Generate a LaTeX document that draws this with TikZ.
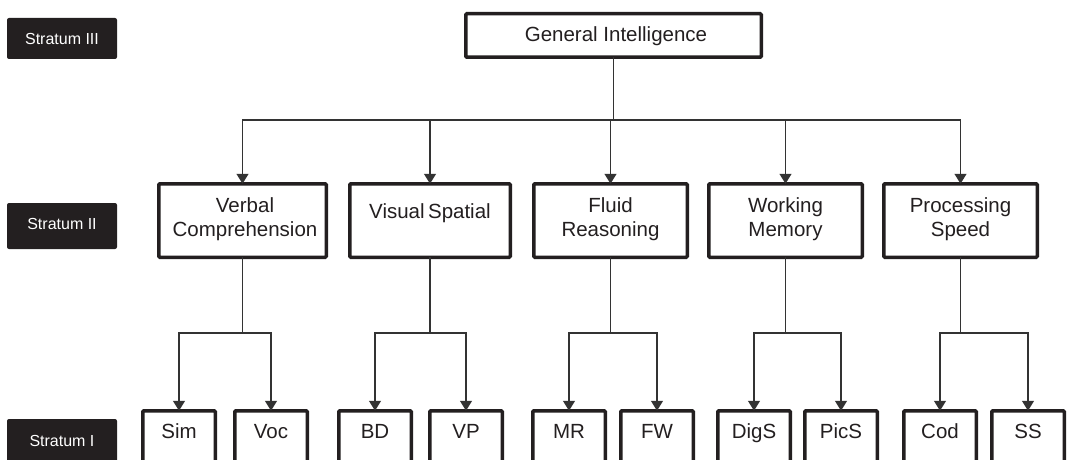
\documentclass[tikz,border=0pt]{standalone}
\usepackage{fontspec}
\setmainfont{Liberation Sans}
\usetikzlibrary{arrows.meta}
\definecolor{ink}{HTML}{231F20}
\definecolor{wirecol}{HTML}{333333}
\begin{document}
\begin{tikzpicture}[x=1pt, y=-1pt,
  every node/.style={inner sep=0pt, outer sep=0pt, text=ink},
  tag/.style={fill=ink, rounded corners=2pt, minimum width=110pt,
    text=white, font=\fontsize{16}{19}\selectfont},
  box/.style={draw=ink, line width=3.5pt, fill=white, rounded corners=1pt},
  topbox/.style={box, minimum width=295.5pt, minimum height=43.5pt},
  midbox/.style={box, minimum height=73.5pt},
  leaf/.style={box, minimum width=72.5pt, minimum height=80pt},
  txt/.style={font=\fontsize{20.5}{24}\selectfont, align=center},
  wire/.style={draw=wirecol, line width=1.4pt},
  >={Triangle[width=12pt, length=10pt]},
  arr/.style={wire, ->},
  twoarr/.style={wire, <->}]

\useasboundingbox (0,0) rectangle (1089,460);
\clip (0,0) rectangle (1089,460);

% stratum tags
\node[tag, minimum height=41pt] (s3) at (62,38.5) {Stratum III};
\node[tag, minimum height=46pt] (s2) at (62,226) {\raisebox{2pt}[\height][\depth]{Stratum II}};
\node[tag, minimum height=44pt] (s1) at (62,441) {Stratum I};

% stratum III
\node[topbox] (gi) at (613.5,35.5) {};
\node[txt, anchor=base] (gi-t) at (616,41.7) {General Intelligence};

% stratum II
\node[midbox, minimum width=167.5pt] (vc) at (242.5,220.5) {};
\node[midbox, minimum width=160.5pt] (vs) at (430,220.5) {};
\node[midbox, minimum width=153.5pt] (fr) at (610.5,220.5) {};
\node[midbox, minimum width=153.5pt] (wm) at (785.5,220.5) {};
\node[midbox, minimum width=153.5pt] (ps) at (960.5,220.5) {};
\node[txt] (vc-t) at (245,219) {Verbal\\Comprehension};
\node[txt, anchor=base] (vs-t) at (430,218.3) {Visual\,Spatial};
\node[txt] (fr-t) at (610.5,219) {Fluid\\Reasoning};
\node[txt] (wm-t) at (785.5,219) {Working\\Memory};
\node[txt] (ps-t) at (960.5,219) {Processing\\Speed};

% stratum I
\foreach \n/\x/\lab in {sim/179/Sim, voc/271/Voc, bd/375/BD, vp/466/VP,
    mr/569/MR, fw/657/FW, digs/754/DigS, pics/841/PicS, cod/940/Cod, ss/1028/SS} {
  \node[leaf] (\n) at (\x,450.75) {};
  \node[txt, anchor=base] (\n-t) at (\x,438.3) {\lab};
}

% connectors
\coordinate (busA) at (0,120);
\coordinate (busB) at (0,333);
\draw[wire] (gi.south) -- (gi.south |- busA);
\draw[twoarr] (vc.north) -- (vc.north |- busA) -- (ps.north |- busA) -- (ps.north);
\foreach \n in {vs,fr,wm}
  \draw[arr] (\n.north |- busA) -- (\n.north);

\foreach \p/\a/\b in {vc/sim/voc, vs/bd/vp, fr/mr/fw, wm/digs/pics, ps/cod/ss} {
  \draw[wire] (\p.south) -- (\p.south |- busB);
  \draw[twoarr] (\a.north) -- (\a.north |- busB) -- (\b.north |- busB) -- (\b.north);
}
\end{tikzpicture}
\end{document}
